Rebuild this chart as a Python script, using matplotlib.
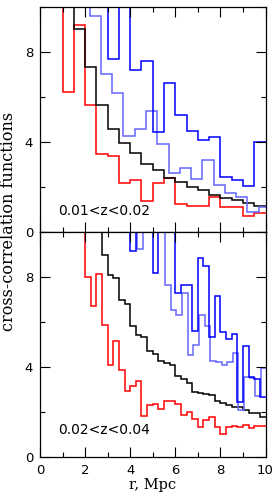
import numpy as np
import matplotlib
matplotlib.use("Agg")
import matplotlib.pyplot as plt
from matplotlib.ticker import MultipleLocator

# ---------------- data ----------------
# top panel 0.01<z<0.02, bins of 0.5 Mpc
top_red_start = 0.5
top_red = [11, 6.22, 9.2, 5.63, 3.45, 3.40, 2.18, 2.30, 1.36, 2.18, 2.41,
           1.23, 1.16, 1.16, 1.55, 1.13, 1.13, 0.73, 0.83]
top_black_start = 1.0
top_black = [11, 9.04, 7.33, 5.66, 4.59, 3.96, 3.51, 3.04, 2.74, 2.41, 2.22,
             2.00, 1.85, 1.66, 1.51, 1.41, 1.29, 1.16]
top_blue_start = 2.5
top_blue = [11, 7.70, 11, 7.21, 7.59, 4.44, 6.62, 5.21, 4.47, 4.07, 4.22,
            2.44, 2.33, 2.04, 4.00]
top_lblue_start = 1.7
top_lblue = [11, 9.60, 7.01, 6.18, 4.25, 4.59, 5.36, 3.90, 2.62, 2.84, 2.37,
             3.19, 2.07, 1.75, 1.56, 0.89, 1.11]
top_bin = 0.5

# bottom panel 0.02<z<0.04, bins of 0.25 Mpc
bot_red_start = 1.75
bot_red = [11, 8.01, 6.71, 8.12, 5.87, 4.09, 5.16, 3.87, 2.93, 3.15, 3.40,
           1.82, 2.30, 2.36, 2.12, 2.49, 2.50, 2.36, 1.87, 2.01, 1.67, 1.32,
           1.64, 1.76, 1.35, 1.02, 1.32, 1.38, 1.35, 1.42, 1.27, 1.38, 1.40]
bot_black_start = 2.5
bot_black = [11, 8.99, 8.10, 7.96, 7.00, 6.82, 5.81, 5.41, 5.32, 4.71, 4.58,
             4.25, 4.19, 4.10, 3.60, 3.45, 3.28, 2.91, 2.85, 2.80, 2.76, 2.50,
             2.39, 2.31, 2.24, 2.21, 2.09, 1.97, 1.94, 1.76]
bot_blue_start = 3.75
bot_blue = [11, 9.14, 11, 11, 11, 8.18, 11, 11, 11, 7.29, 7.66, 7.66, 5.59,
            8.86, 8.50, 5.35, 7.17, 5.54, 5.25, 5.45, 2.46, 4.95, 3.57, 3.47,
            2.68]
bot_lblue_start = 4.05
bot_lblue = [11, 9.26, 11, 11, 11, 11, 7.66, 6.55, 6.30, 7.29, 4.53, 4.98,
             6.31, 5.84, 4.27, 4.22, 4.09, 4.21, 4.61, 2.09, 3.57, 3.53, 2.73,
             3.94]
bot_bin = 0.25

labels = ["0.01<z<0.02", "0.02<z<0.04"]
xticks = [0, 2, 4, 6, 8, 10]
yticks = [0, 4, 8]

RED = "#ff0000"
BLACK = "#000000"
BLUE = "#0000ff"
LBLUE = "#6464ff"

fig = plt.figure(figsize=(2.77, 4.99), dpi=100)
L, W = 40 / 277, 225.5 / 277
H = 225 / 499
ax_top = fig.add_axes([L, 1 - 232 / 499, W, H])
ax_bot = fig.add_axes([L, 1 - 457 / 499, W, H])


def draw(ax, series, binw):
    for start, vals, col in series:
        edges = start + binw * np.arange(len(vals) + 1)
        ax.stairs(vals, edges, baseline=None, color=col, lw=1.1)


draw(ax_top, [(top_red_start, top_red, RED),
              (top_black_start, top_black, BLACK),
              (top_lblue_start, top_lblue, LBLUE),
              (top_blue_start, top_blue, BLUE)], top_bin)
draw(ax_bot, [(bot_red_start, bot_red, RED),
              (bot_black_start, bot_black, BLACK),
              (bot_lblue_start, bot_lblue, LBLUE),
              (bot_blue_start, bot_blue, BLUE)], bot_bin)

for ax in (ax_top, ax_bot):
    ax.set_xlim(0, 10)
    ax.set_ylim(0, 10)
    ax.set_xticks(xticks)
    ax.set_yticks(yticks)
    ax.xaxis.set_minor_locator(MultipleLocator(1))
    ax.yaxis.set_minor_locator(MultipleLocator(2))
    ax.tick_params(which="both", direction="in", top=True, right=True,
                   labelsize=9.5, pad=5, width=0.8)
    ax.tick_params(which="major", length=7)
    ax.tick_params(which="minor", length=3.6)
    for s in ax.spines.values():
        s.set_linewidth(0.9)

ax_top.tick_params(labelbottom=False)
ax_top.text(0.8, 0.93, labels[0], fontsize=10, va="center", ha="left",
            family="DejaVu Sans")
ax_bot.text(0.8, 1.22, labels[1], fontsize=10, va="center", ha="left",
            family="DejaVu Sans")

ax_bot.set_xlabel("r, Mpc", fontsize=10.5, family="DejaVu Serif", labelpad=1)
fig.text(9 / 277, 1 - 221 / 499, "cross-correlation functions",
         rotation=90, fontsize=11.5, family="DejaVu Serif",
         ha="center", va="center")

fig.savefig("out.png", dpi=100)
